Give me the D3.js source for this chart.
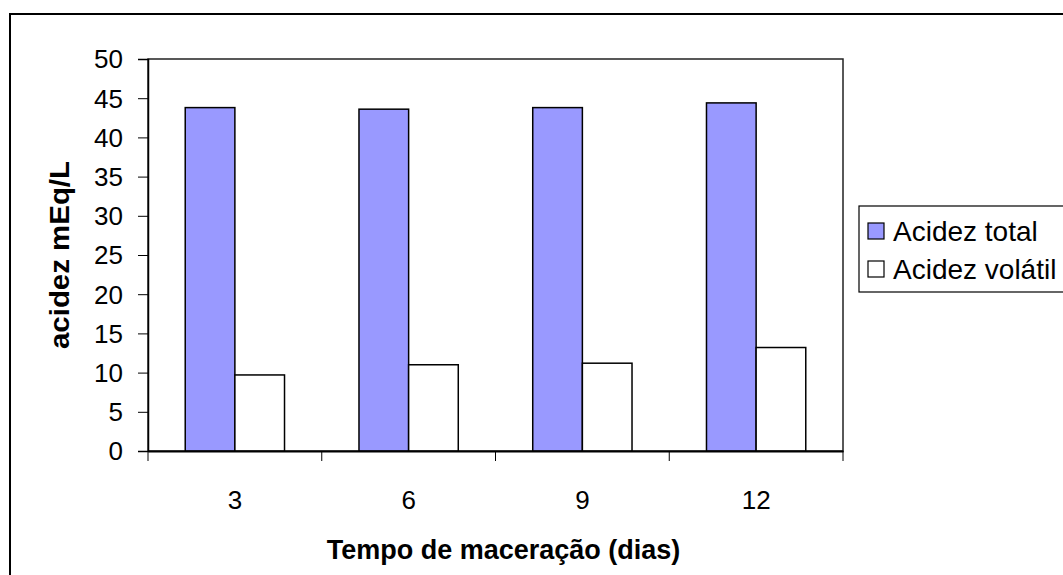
<!DOCTYPE html>
<html><head><meta charset="utf-8">
<script src="https://cdn.jsdelivr.net/npm/d3@7"></script>
<style>
html,body{margin:0;padding:0;background:#fff;overflow:hidden}
text{font-family:"Liberation Sans",Arial,sans-serif}
</style></head>
<body><svg id="c" width="1063" height="575"></svg>
<script>
const categories = ["3","6","9","12"];
const seriesNames = ["Acidez total","Acidez volátil"];
const acidezTotal = [43.8, 43.6, 43.8, 44.4];
const acidezVolatil = [9.7, 11.0, 11.2, 13.2];
const yTicks = [0,5,10,15,20,25,30,35,40,45,50];
const seriesColors = ["#9999FF","#FFFFFF"];

const svg = d3.select("#c");
const L = 148, R = 843, T = 59, B = 451;
const FF = "Liberation Sans, Arial, sans-serif";

svg.append("rect").attr("x",10).attr("y",14).attr("width",1200).attr("height",700)
  .attr("fill","#fff").attr("stroke","#000").attr("stroke-width",2);

const x0 = d3.scaleBand().domain(categories).range([L,R]).padding(0);
const bw = x0.bandwidth();
const gap = bw*1.5/3.5;
const x1 = d3.scaleBand().domain(seriesNames).range([gap/2, bw-gap/2]).padding(0);
const y = d3.scaleLinear().domain([0,50]).range([B,T]);

// plot area border
svg.append("rect").attr("x",L).attr("y",T).attr("width",R-L).attr("height",B-T)
  .attr("fill","#fff").attr("stroke","#222").attr("stroke-width",1.5);

const data = categories.map((c,i)=>({c, vals:[acidezTotal[i], acidezVolatil[i]]}));
const g = svg.append("g");
data.forEach(d=>{
  d.vals.forEach((v,j)=>{
    g.append("rect")
      .attr("x", x0(d.c)+x1(seriesNames[j]))
      .attr("y", y(v))
      .attr("width", x1.bandwidth())
      .attr("height", B - y(v))
      .attr("fill", seriesColors[j])
      .attr("stroke","#000").attr("stroke-width",1.5);
  });
});

// Y axis
const ya = svg.append("g").attr("transform",`translate(${L},0)`)
  .call(d3.axisLeft(y).tickValues(yTicks).tickSize(10).tickPadding(15));
ya.select(".domain").attr("stroke","#000").attr("stroke-width",1.5);
ya.selectAll(".tick line").attr("stroke","#000");
ya.selectAll("text").attr("font-size",26).attr("fill","#000").attr("font-family",FF).attr("dy","0.34em");

// X axis
const xa = svg.append("g").attr("transform",`translate(0,${B})`)
  .call(d3.axisBottom(x0).tickSize(0).tickPadding(0));
xa.select(".domain").attr("stroke","#000").attr("stroke-width",2);
xa.selectAll("text").attr("font-size",26).attr("fill","#000").attr("font-family",FF)
  .attr("dy",null).attr("y",58);
const bounds = categories.map(c=>x0(c)).concat([R]);
svg.append("g").selectAll("line").data(bounds).join("line")
  .attr("x1",d=>d).attr("x2",d=>d).attr("y1",B).attr("y2",B+10)
  .attr("stroke","#000").attr("stroke-width",1);

// Titles
svg.append("text").attr("x",(L+R)/2+8).attr("y",559).attr("text-anchor","middle")
  .attr("font-size",27).attr("font-weight","bold").text("Tempo de maceração (dias)");
svg.append("text").attr("transform",`translate(69,${(T+B)/2}) rotate(-90)`)
  .attr("text-anchor","middle").attr("font-size",28).attr("font-weight","bold")
  .attr("textLength",188).attr("lengthAdjust","spacingAndGlyphs").text("acidez mEq/L");

// Legend
const lg = svg.append("g");
lg.append("rect").attr("x",859).attr("y",206).attr("width",300).attr("height",86)
  .attr("fill","#fff").attr("stroke","#000").attr("stroke-width",1.2);
seriesNames.forEach((s,i)=>{
  const cy = 231 + i*38;
  lg.append("rect").attr("x",868).attr("y",cy-8).attr("width",16).attr("height",16)
    .attr("fill",seriesColors[i]).attr("stroke","#000").attr("stroke-width",1.2);
  lg.append("text").attr("x",893).attr("y",cy).attr("dy","0.36em").attr("font-size",28).text(s);
});
</script></body></html>
